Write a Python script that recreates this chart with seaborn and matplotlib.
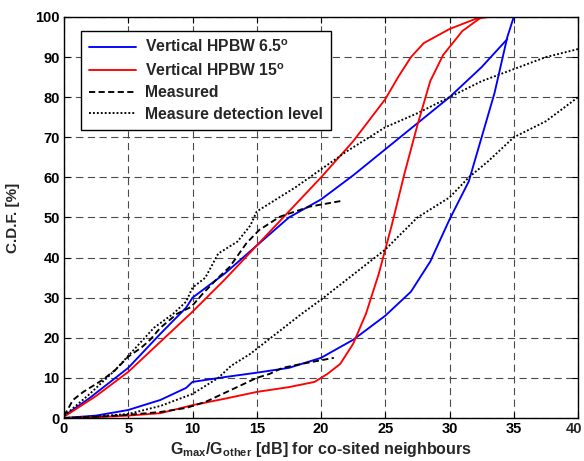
import numpy as np
import pandas as pd
import matplotlib
matplotlib.use("Agg")
import matplotlib.pyplot as plt
import seaborn as sns

# ---- data ----
blue_up_x = [0, 2, 5, 7.5, 9.5, 10, 12.5, 15, 17.5, 20, 22.5, 25, 27.5, 30, 32.5, 34.5]
blue_up_y = [0.5, 5, 12.5, 21, 27.5, 30, 36, 43, 50, 54.5, 60.5, 67, 73.5, 80, 87.5, 94.5]

red_up_x = [0, 2.5, 5, 7.5, 10, 12.5, 15, 17.5, 20, 22.5, 25, 26, 27, 28, 30, 32, 33]
red_up_y = [0.3, 5.5, 11.5, 19, 26.5, 34.5, 43, 51.5, 60, 69, 79.5, 85, 90, 93.5, 97, 99.5, 100]

meas_up_x = [0, 0.7, 1.5, 3, 4, 5, 6, 6.7, 7.5, 8.8, 9.9, 10.8, 12, 12.9, 14.2, 15.2, 16.8, 18, 19.1, 21.7]
meas_up_y = [0.5, 4.5, 6.5, 9.5, 12, 15.3, 17.5, 19.5, 22.5, 26, 27.7, 31, 35, 37.7, 43.6, 46.9, 50.2, 51.5, 52.7, 54.2]

det_up_x = [0, 2, 4, 5, 7, 8.5, 9.5, 10, 11, 12, 13.5, 14.5, 15, 16.5, 18, 20, 22, 25, 27.5, 30, 32.5, 35, 37.5, 40]
det_up_y = [0.5, 6, 12, 15.5, 22.5, 26, 29, 32.5, 35, 41, 44, 48, 51.5, 54.5, 57.5, 62, 66.5, 72.5, 76, 80, 84, 87, 90, 92]

blue_lo_x = [0, 2.5, 5, 7.5, 9.5, 10, 12.5, 15, 17.5, 20, 22.5, 25, 27, 28.5, 30, 31.5, 32.5, 33.5, 34, 34.5, 35]
blue_lo_y = [0, 0.6, 2, 4.5, 7.5, 9, 10.2, 11.3, 12.5, 15, 19.5, 25.5, 31.5, 39, 49.5, 59, 70, 81, 88, 95, 100]

red_lo_x = [0, 2.5, 5, 7.5, 10, 12.5, 15, 17.5, 19.5, 20.5, 21.5, 22.5, 23.5, 24.5, 25.5, 26.5, 27.5, 28.5, 29.5, 31, 32.5]
red_lo_y = [0, 0.2, 0.6, 1.2, 3.2, 4.8, 6.5, 7.7, 9, 11, 13.5, 18.5, 26, 36, 48, 61, 73, 84, 90.5, 96.5, 100]

meas_lo_x = [0, 2.5, 5, 7.5, 9.5, 10, 11, 12, 13, 14, 15, 16, 17, 18.5, 21]
meas_lo_y = [0, 0.3, 0.8, 1.5, 2.5, 3, 4, 5.5, 7, 8.5, 10, 11, 12.5, 13.5, 15]

det_lo_x = [0, 2.5, 5, 7.5, 10, 11, 12, 13, 14.5, 16.5, 18.5, 20, 22, 25, 27.5, 30, 31.5, 33, 35, 37.5, 40]
det_lo_y = [0, 0.4, 1, 3, 6, 8, 10, 13, 16, 21, 26, 29.5, 34.5, 42, 50, 55, 60, 64, 70, 74, 80]

x_ticks = [0, 5, 10, 15, 20, 25, 30, 35, 40]
y_ticks = [0, 10, 20, 30, 40, 50, 60, 70, 80, 90, 100]

labels = ["Vertical HPBW 6.5$^{\\mathbf{o}}$", "Vertical HPBW 15$^{\\mathbf{o}}$",
          "Measured", "Measure detection level"]

# ---- style ----
sns.set_style("white")
plt.rcParams["font.family"] = ["Liberation Sans", "DejaVu Sans"]
plt.rcParams["font.weight"] = "bold"
plt.rcParams["mathtext.fontset"] = "custom"
plt.rcParams["mathtext.rm"] = "Liberation Sans:bold"
plt.rcParams["mathtext.bf"] = "Liberation Sans:bold"
plt.rcParams["mathtext.it"] = "Liberation Sans:bold"

fig = plt.figure(figsize=(5.84, 4.61), dpi=100)
ax = fig.add_axes([64/584, 1-418/461, (578-64)/584, (418-17)/461])

def df(x, y):
    return pd.DataFrame({"x": x, "y": y})

lw = 1.35
curves = [
    (blue_up_x, blue_up_y, "#0000ff", "-", labels[0]),
    (red_up_x, red_up_y, "#ff0000", "-", labels[1]),
    (meas_up_x, meas_up_y, "black", "--", labels[2]),
    (det_up_x, det_up_y, "black", ":", labels[3]),
    (blue_lo_x, blue_lo_y, "#0000ff", "-", None),
    (red_lo_x, red_lo_y, "#ff0000", "-", None),
    (meas_lo_x, meas_lo_y, "black", "--", None),
    (det_lo_x, det_lo_y, "black", ":", None),
]
for x, y, c, ls, lab in curves:
    d = df(x, y)
    kw = dict(data=d, x="x", y="y", color=c, linewidth=lw, sort=False,
              estimator=None, ax=ax)
    if lab is not None:
        kw["label"] = lab
    sns.lineplot(**kw)
    ln = ax.get_lines()[-1]
    ln.set_linestyle(ls)
    if ls == "--":
        ln.set_dashes((3.3, 1.8))
    if ls == ":":
        ln.set_dashes((1, 1.1))

ax.set_xlim(0, 40)
ax.set_ylim(0, 100)
ax.set_xticks(x_ticks)
ax.set_yticks(y_ticks)
# last x tick label drawn separately, nudged left so it stays inside the figure
xt_labels = [str(t) for t in x_ticks]
ax.set_xticklabels(xt_labels[:-1] + [""], fontsize=10.5, fontweight="bold")
ax.annotate(xt_labels[-1], xy=(x_ticks[-1], 0), xycoords=("data", "axes fraction"),
            xytext=(-3, -3), textcoords="offset points", ha="center", va="top",
            fontsize=10.5, fontweight="bold", annotation_clip=False)
ax.set_yticklabels([str(t) for t in y_ticks], fontsize=10.5, fontweight="bold")
ax.grid(True, color="#4a4a4a", linestyle=(0, (6.5, 4)), linewidth=0.8)
ax.set_axisbelow(True)
ax.tick_params(direction="in", length=4, width=0.8, top=True, right=True,
               bottom=True, left=True, pad=3, colors="black")
for s in ax.spines.values():
    s.set_visible(True)
    s.set_color("black")
    s.set_linewidth(1.0)

ax.set_xlabel(r"G$_{\mathbf{max}}$/G$_{\mathbf{other}}$ [dB] for co-sited neighbours",
              fontsize=11.5, fontweight="bold", labelpad=3)
ax.set_ylabel("C.D.F. [%]", fontsize=11, fontweight="bold", labelpad=11)

leg = ax.legend(loc="upper left", bbox_to_anchor=(17/514, 1-14/401), borderaxespad=0,
                fontsize=11.3, frameon=True, fancybox=False, edgecolor="black",
                framealpha=1, handlelength=3.0, borderpad=0.5, labelspacing=0.42,
                handletextpad=0.6)
leg.get_frame().set_linewidth(1.0)
for t in leg.get_texts():
    t.set_fontweight("bold")

fig.savefig("out.png", dpi=100)
